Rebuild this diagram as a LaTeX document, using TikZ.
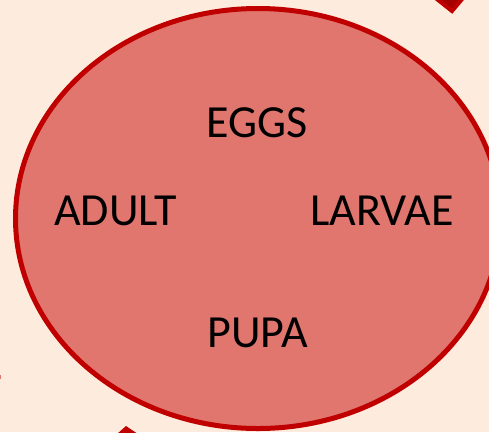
\documentclass[tikz,border=0pt]{standalone}
\usepackage{fontspec}
\setmainfont{Carlito}
\definecolor{bgpeach}{RGB}{253,235,221}
\definecolor{ellfill}{RGB}{224,118,110}
\definecolor{ellborder}{RGB}{192,0,0}
\definecolor{darkred}{RGB}{165,0,0}
\begin{document}
\begin{tikzpicture}[x=1pt,y=-1pt,
  stage/.style={font=\fontsize{46}{50}\selectfont, text=black, inner sep=0pt}]
\useasboundingbox (0,0) rectangle (489,432);
\fill[bgpeach] (0,0) rectangle (489,432);
% partial shapes at the edges
\begin{scope}
\clip (0,0) rectangle (489,432);
\draw[fill=darkred, draw=ellborder, line width=4pt, line join=miter] (428,-8) -- (452,11) -- (468,-8);
\fill[ellborder] (117,434) -- (126,426) -- (138,434) -- cycle;
\fill[ellfill] (-1,375) rectangle (1,379);
% ellipse
\draw[fill=ellfill, draw=ellborder, line width=5pt] (258,218.5) ellipse [x radius=242.5, y radius=210];
\end{scope}
\node[stage] (eggs) at (257,123) {EGGS};
\node[stage] (adult) at (115.5,210.5) {ADULT};
\node[stage] (larvae) at (382,210.5) {LARVAE};
\node[stage] (pupa) at (257.5,333) {PUPA};
\end{tikzpicture}
\end{document}
